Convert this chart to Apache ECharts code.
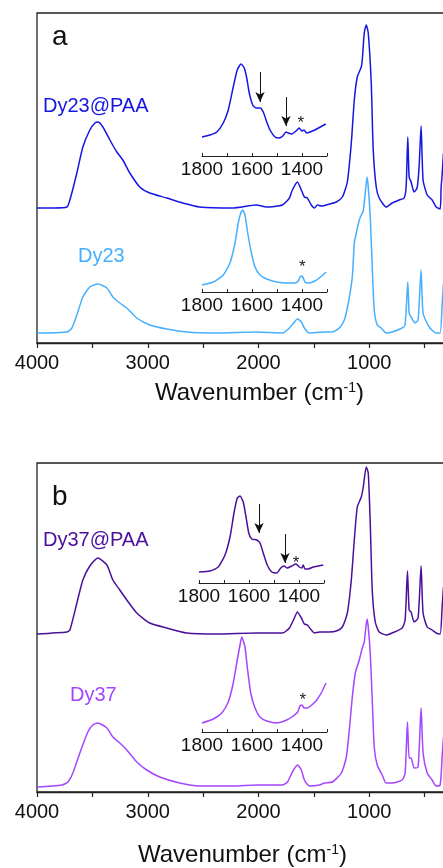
<!DOCTYPE html>
<html>
<head>
<meta charset="utf-8">
<script src="https://cdn.jsdelivr.net/npm/echarts@6/dist/echarts.min.js"></script>
<style>
  html, body { margin: 0; padding: 0; background: #fff; }
  #chart { width: 443px; height: 868px; }
</style>
</head>
<body>
<div id="chart"></div>
<script>
// FTIR spectra, [wavenumber, intensity] (arbitrary units)
const dy23PAA = [[4000,135],[3850,135],[3730,136],[3703,143],[3640,170],[3586,196],[3523,213],[3477,220],[3450,221],[3405,216],[3342,203],[3279,191],[3225,183],[3162,170],[3072,156],[2982,150],[2829,145],[2685,140],[2532,136],[2234,135],[2018,138],[1928,136],[1784,138],[1721,145],[1694,153],[1649,161],[1613,153],[1586,146],[1559,145],[1523,138],[1495,135],[1468,138],[1432,137],[1360,139],[1297,141],[1243,146],[1198,161],[1162,200],[1135,243],[1108,266],[1072,276],[1063,283],[1045,310],[1027,318],[1009,310],[982,260],[964,193],[937,156],[910,145],[847,136],[793,140],[730,143],[685,145],[667,156],[652,206],[640,166],[622,161],[595,151],[568,155],[550,176],[532,217],[514,163],[477,148],[432,143],[396,136],[360,134],[351,156],[342,168],[330,190]];
const dy23 = [[4000,10],[3730,11],[3685,15],[3640,28],[3586,46],[3523,56],[3450,59],[3369,55],[3315,46],[3252,40],[3189,35],[3099,25],[2982,18],[2829,14],[2649,11],[2378,10],[2018,11],[1784,10],[1721,15],[1676,21],[1649,24],[1613,21],[1586,15],[1541,10],[1405,11],[1333,11],[1270,15],[1225,23],[1189,40],[1153,66],[1135,100],[1117,110],[1090,123],[1072,128],[1054,132],[1036,150],[1020,166],[1009,156],[991,126],[973,76],[955,33],[928,18],[892,15],[847,10],[793,11],[703,15],[676,18],[652,61],[640,30],[622,26],[586,20],[559,23],[532,73],[514,30],[459,16],[396,10],[360,10],[342,38],[330,60]];
const dy37PAA = [[4000,158],[3730,160],[3703,162],[3640,189],[3586,212],[3523,226],[3450,234],[3369,227],[3315,212],[3252,202],[3189,192],[3099,179],[2982,169],[2829,164],[2649,159],[2378,158],[2018,159],[1784,159],[1721,164],[1676,174],[1649,180],[1613,174],[1586,168],[1559,167],[1523,162],[1495,159],[1450,160],[1360,160],[1297,161],[1243,165],[1198,179],[1162,212],[1135,252],[1108,285],[1072,295],[1054,305],[1027,325],[1009,319],[991,269],[973,202],[946,170],[910,160],[847,157],[793,159],[703,164],[676,172],[655,221],[640,182],[622,180],[595,170],[559,174],[532,226],[514,179],[477,165],[432,162],[396,159],[360,158],[342,185],[330,205]];
const dy37 = [[4000,5],[3775,7],[3721,10],[3676,19],[3613,39],[3541,60],[3496,67],[3450,69],[3369,64],[3315,55],[3252,49],[3189,42],[3099,30],[3009,22],[2892,15],[2712,9],[2532,6],[2234,6],[2018,7],[1784,7],[1739,10],[1694,20],[1649,27],[1613,22],[1586,12],[1541,6],[1450,7],[1405,9],[1333,10],[1252,19],[1207,35],[1180,62],[1153,95],[1126,119],[1090,132],[1063,144],[1045,150],[1020,173],[1009,165],[991,139],[973,92],[955,45],[928,27],[883,17],[847,9],[793,9],[703,12],[676,19],[655,70],[640,34],[622,34],[595,24],[559,25],[532,84],[514,39],[477,19],[432,12],[396,6],[360,7],[342,35],[330,55]];

// inset zooms 1800-1300 cm-1
const insetDy23PAA = [[1800,19],[1768,21],[1741,24],[1715,33],[1695,46],[1675,69],[1659,86],[1644,92],[1631,88],[1621,78],[1611,63],[1597,51],[1584,48],[1568,48],[1555,44],[1541,34],[1528,26],[1508,19],[1491,18],[1477,20],[1464,24],[1455,23],[1441,22],[1424,25],[1411,28],[1401,25],[1392,26],[1381,23],[1368,24],[1341,27],[1305,32]];
const insetDy23 = [[1800,7],[1755,10],[1715,17],[1688,29],[1668,49],[1655,69],[1645,79],[1637,82],[1628,77],[1619,62],[1605,42],[1588,25],[1568,17],[1541,13],[1501,10],[1461,9],[1428,9],[1415,11],[1405,16],[1397,15],[1388,10],[1375,9],[1348,11],[1321,16],[1304,20]];
const insetDy37PAA = [[1800,11],[1756,12],[1723,16],[1696,28],[1676,46],[1660,70],[1647,85],[1636,87],[1623,81],[1612,66],[1601,50],[1589,44],[1569,43],[1556,40],[1543,30],[1527,18],[1509,11],[1489,10],[1473,15],[1460,17],[1447,15],[1429,17],[1412,19],[1399,16],[1389,15],[1383,18],[1376,14],[1363,14],[1343,16],[1323,17],[1303,18]];
const insetDy37 = [[1800,9],[1755,13],[1721,19],[1695,30],[1675,49],[1659,72],[1648,87],[1641,95],[1628,85],[1619,65],[1605,39],[1588,24],[1568,15],[1541,11],[1501,9],[1461,12],[1435,16],[1417,20],[1408,26],[1400,27],[1392,24],[1381,24],[1361,27],[1341,32],[1321,40],[1304,49]];

// arrows [wavenumber, from, to] and asterisks [wavenumber, height]
const arrowsA = [[1568, 84, 54], [1464, 59, 30]];
const arrowsB = [[1560, 79, 50], [1456, 49, 20]];
const starA1 = [1405, 37];
const starA2 = [1399, 29];
const starB1 = [1412, 24];
const starB2 = [1397, 36];

const mainTicks = ['4000', '3000', '2000', '1000'];
const insetTicks = ['1800', '1600', '1400'];

const FONT = '"Liberation Sans", Arial, sans-serif';
const C23P = '#1616e2', C23 = '#45b0ff', C37P = '#4b0f9c', C37 = '#a546ff';

const chart = echarts.init(document.getElementById('chart'));

const mainX = gi => ({
    gridIndex: gi, type: 'value', min: 0, max: 4000, interval: 500, inverse: true,
    axisLine: { show: true, onZero: false, lineStyle: { color: '#222', width: 1.3 } },
    axisTick: { show: true, inside: false, length: 5, lineStyle: { color: '#222', width: 1.2 } },
    axisLabel: {
        margin: 10, fontSize: 20, color: '#111', fontFamily: FONT,
        formatter: v => mainTicks.indexOf(String(v)) >= 0 ? String(v) : ''
    },
    splitLine: { show: false }
});
const insetX = gi => ({
    gridIndex: gi, type: 'value', min: 1300, max: 1800, interval: 100, inverse: true,
    axisLine: { show: true, onZero: false, lineStyle: { color: '#222', width: 1 } },
    axisTick: { show: true, inside: true, length: 3, lineStyle: { color: '#222' } },
    axisLabel: {
        margin: 4, fontSize: 19, color: '#111', fontFamily: FONT,
        formatter: v => insetTicks.indexOf(String(v)) >= 0 ? String(v) : ''
    },
    splitLine: { show: false }
});
const hiddenY = (gi, max) => ({ gridIndex: gi, type: 'value', min: 0, max: max, show: false });

const line = (idx, data, color, extra) => Object.assign({
    type: 'line', xAxisIndex: idx, yAxisIndex: idx, data: data,
    showSymbol: false, symbol: 'none', smooth: 0.2, silent: true,
    lineStyle: { color: color, width: 1.5 }, itemStyle: { color: color }
}, extra || {});

const arrowLines = list => ({
    silent: true, symbol: ['none', 'arrow'], symbolSize: [7, 10],
    label: { show: false },
    lineStyle: { color: '#111', width: 1, type: 'solid' },
    data: list.map(a => [{ coord: [a[0], a[1]] }, { coord: [a[0], a[2]] }])
});
const star = p => ({
    silent: true, symbol: 'circle', symbolSize: 1,
    itemStyle: { color: 'rgba(0,0,0,0)' },
    label: { show: true, formatter: '*', fontSize: 17, color: '#222', fontFamily: FONT, offset: [0, 4] },
    data: [{ coord: p }]
});

const titleText = (left, top) => ({
    text: 'Wavenumber (cm{sup|-1})', left: left, top: top,
    textStyle: {
        fontSize: 24, fontWeight: 'normal', color: '#111', fontFamily: FONT,
        rich: { sup: { fontSize: 14, verticalAlign: 'top', color: '#111', fontFamily: FONT } }
    }
});

const label = (text, x, y, color, size) => ({
    type: 'text', x: x, y: y, silent: true,
    style: { text: text, fill: color, font: size + 'px ' + FONT, textAlign: 'left', textVerticalAlign: 'middle' }
});

const grid = (left, top, width, height, box) => ({
    left: left, top: top, width: width, height: height,
    outerBoundsMode: 'none', containLabel: false,
    show: !!box, borderColor: '#222', borderWidth: 1.3
});

const option = {
    animation: false,
    backgroundColor: '#fff',
    title: [titleText(150, 376), titleText(133, 838)],
    grid: [
        grid(37, 13, 443, 330, true),
        grid(37, 463, 443, 329, true),
        grid(202, 50, 125, 106),
        grid(202, 200, 125, 92),
        grid(199, 483, 125, 100),
        grid(202, 630, 125, 102)
    ],
    xAxis: [mainX(0), mainX(1), insetX(2), insetX(3), insetX(4), insetX(5)],
    yAxis: [hiddenY(0, 330), hiddenY(1, 329), hiddenY(2, 106), hiddenY(3, 92), hiddenY(4, 100), hiddenY(5, 102)],
    series: [
        line(0, dy23, C23),
        line(0, dy23PAA, C23P),
        line(1, dy37, C37),
        line(1, dy37PAA, C37P),
        line(2, insetDy23PAA, C23P, { markLine: arrowLines(arrowsA), markPoint: star(starA1) }),
        line(3, insetDy23, C23, { markPoint: star(starA2) }),
        line(4, insetDy37PAA, C37P, { markLine: arrowLines(arrowsB), markPoint: star(starB1) }),
        line(5, insetDy37, C37, { markPoint: star(starB2) })
    ],
    graphic: [
        label('a', 52, 37, '#111', 28),
        label('b', 52, 497, '#111', 28),
        label('Dy23@PAA', 43, 106, C23P, 20),
        label('Dy23', 78, 256, C23, 20),
        label('Dy37@PAA', 43, 540, C37P, 20),
        label('Dy37', 70, 695, C37, 20)
    ]
};

chart.setOption(option);
</script>
</body>
</html>
